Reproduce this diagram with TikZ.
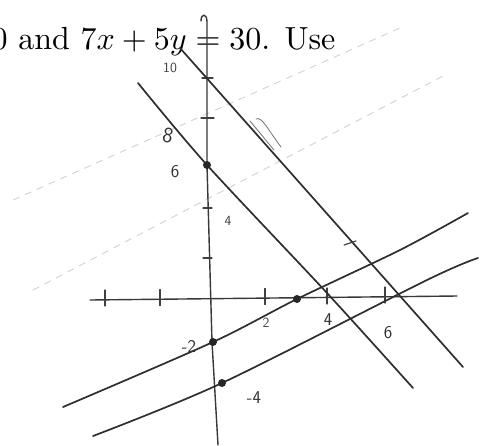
\documentclass[tikz,border=0pt]{standalone}
\begin{document}
\begin{tikzpicture}[x=1pt,y=-1pt,
  pencil/.style={draw=black!82, line width=1.7pt, line cap=round, line join=round},
  axisline/.style={draw=black!78, line width=1.4pt, line cap=round, line join=round},
  ghost/.style={draw=black!18, line width=0.9pt, dash pattern=on 7pt off 6pt},
  faint/.style={draw=black!55, line width=0.8pt, line cap=round},
  hand/.style={font=\sffamily\fontsize{18}{18}\selectfont, text=black!80, inner sep=0pt},
  smallhand/.style={font=\sffamily\fontsize{14}{14}\selectfont, text=black!75, inner sep=0pt},
  dotmark/.style={circle, fill=black!85, inner sep=0pt, minimum size=8pt},
  tickmark/.style={draw=black!75, line width=1.2pt, line cap=round}]

\useasboundingbox (0,0) rectangle (489,445);
\clip (0,0) rectangle (489,445);
\fill[white] (0,0) rectangle (489,445);

% bleed-through ghost lines
\coordinate (g1a) at (13,200);
\coordinate (g1b) at (400,28);
\coordinate (g2a) at (33,290);
\coordinate (g2b) at (445,75);
\draw[ghost] (g1a) -- (g1b);
\draw[ghost] (g2a) -- (g2b);

% printed text
\node[anchor=base west, inner sep=0pt, scale=3.2, transform shape=false] (title) at (-9,49) {0 and $7x + 5y = 30$. Use};

% axes
\coordinate (yb) at (218,445);
\coordinate (ym) at (212,342);
\coordinate (y6) at (207,165);
\coordinate (yt) at (207,22);
\coordinate (yh) at (201,21);
\draw[axisline] (yb) -- (ym) -- (y6) -- (yt) .. controls (207,13) and (201,13) .. (yh);
\coordinate (xl) at (90,300);
\coordinate (xr) at (457,296);
\draw[axisline] (xl) -- (xr);

% x ticks
\foreach \tx/\ty in {105/300, 160/299.5, 265/298.5, 327/298, 385/297}{
  \draw[tickmark] (\tx,\ty-10) -- (\tx,\ty+6);
}
% y ticks
\foreach \ty/\tw in {78/5, 118/6, 208/4, 258/4}{
  \draw[tickmark] (207-\tw,\ty) -- (208+\tw,\ty);
}

% line A : through (0,10) and (6,0)
\coordinate (A1) at (180,48);
\coordinate (A2) at (463,367);
\draw[pencil] (A1) -- (A2);
\coordinate (Am1) at (344,245);
\coordinate (Am2) at (356,241);
\draw[tickmark] (Am1) -- (Am2);
% small parallel pencil strokes
\coordinate (s1a) at (250,121);
\coordinate (s1b) at (274,150);
\coordinate (s2a) at (256,119);
\coordinate (s2b) at (281,147);
\draw[faint] (s1a) -- (s1b);
\draw[faint] (s2a) .. controls (262,116) and (268,130) .. (s2b);

% line B : through (0,6) and (4,0)
\draw[pencil] plot[smooth, tension=0.5] coordinates {(138,83) (207,165) (327,293) (413,388)};

% line C : through (0,-2)
\draw[pencil] plot[smooth, tension=0.5] coordinates {(63,407) (213,342) (297,299) (400,250) (468,213)};

% line D : through (0,-4)
\draw[pencil] plot[smooth, tension=0.5] coordinates {(93,436) (222,383) (427,280) (478,258)};

% dots
\node[dotmark] (d6) at (207,165) {};
\node[dotmark] (d3) at (297,299) {};
\node[dotmark] (dm2) at (213,342) {};
\node[dotmark] (dm4) at (222,383) {};

% handwritten labels
\node[smallhand] (l10) at (170,68) {10};
\node[hand, rotate=-12, font=\sffamily\fontsize{22}{22}\selectfont] (l8) at (168,136) {8};
\node[hand] (l6a) at (175,172) {6};
\node[smallhand] (l4a) at (228,221) {4};
\node[smallhand] (l2) at (266,323) {2};
\node[hand] (l4) at (328,320) {4};
\node[hand] (l6) at (388,333) {6};
\node[hand] (lm2) at (189,346) {-2};
\node[hand] (lm4) at (254,398) {-4};
\end{tikzpicture}
\end{document}
